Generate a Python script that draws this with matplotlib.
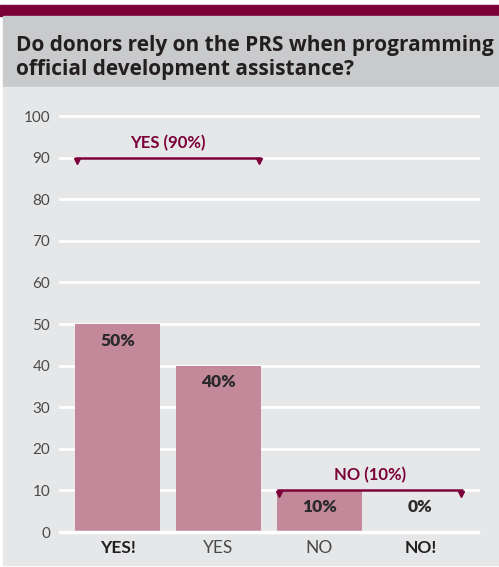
import matplotlib
matplotlib.use("Agg")
import matplotlib.pyplot as plt
from matplotlib.patches import Rectangle

categories = ["YES!", "YES", "NO", "NO!"]
values = [50, 40, 10, 0]
value_labels = ["50%", "40%", "10%", "0%"]
bold_ticks = [True, False, False, True]
yticks = [0, 10, 20, 30, 40, 50, 60, 70, 80, 90, 100]
brackets = [("YES (90%)", 0, 1, 90), ("NO (10%)", 2, 3, 10)]
title = "Do donors rely on the PRS when programming\nofficial development assistance?"

MAROON = "#7b0039"
BAR = "#c4889b"
HEADER = "#c9cacc"
PANEL = "#e6e7e8"
TXT = "#231f20"
FONT = "Lato"

W, H = 499, 567
fig = plt.figure(figsize=(W / 100, H / 100), dpi=100, facecolor="white")

def fx(px):
    return px / W

def fy(py):
    return 1 - py / H

# backgrounds
for rect in [
    Rectangle((0, fy(16)), 1, fy(5) - fy(16), color=MAROON),
    Rectangle((fx(3), fy(87)), 1, fy(16) - fy(87), color=HEADER),
    Rectangle((fx(3), fy(565)), 1, fy(87) - fy(565), color=PANEL),
]:
    rect.set_transform(fig.transFigure)
    rect.set_zorder(-10)
    fig.patches.append(rect)

fig.text(fx(16), fy(75), title, fontsize=15, fontweight="bold", family="Open Sans", color=TXT,
         va="baseline", ha="left", linespacing=1.2)

ax = fig.add_axes([fx(60), fy(532), fx(478) - fx(60), fy(116) - fy(532)])
ax.set_facecolor("none")
x = list(range(len(categories)))
ax.bar(x, values, width=0.84, color=BAR, zorder=2)
ax.set_xlim(-0.57, 3.57)
ax.set_ylim(0, 100)
ax.set_yticks(yticks)
for yv in yticks:
    ax.axhline(yv, color="white", lw=2.5 if yv == 0 else 2, zorder=1 if yv else 3, clip_on=False)
for s in ax.spines.values():
    s.set_visible(False)
ax.tick_params(axis="both", length=0)
ax.tick_params(axis="y", pad=7, labelsize=11, labelcolor="#4a4a4a")
for lbl in ax.get_yticklabels():
    lbl.set_family(FONT)
ax.set_xticks(x)
ax.set_xticklabels(categories)
for lbl, b in zip(ax.get_xticklabels(), bold_ticks):
    lbl.set_family(FONT)
    lbl.set_fontsize(12.5)
    lbl.set_color(TXT if b else "#4a4a4a")
    lbl.set_fontweight("bold" if b else "normal")
ax.tick_params(axis="x", pad=6)

for xi, v, t in zip(x, values, value_labels):
    ax.text(xi, max(v, 10) - 4, t, ha="center", va="center", fontsize=12.5, fontweight="heavy",
            family=FONT, color="#2a2a2a", zorder=4)

for label, i0, i1, yv in brackets:
    x0, x1 = i0 - 0.42, i1 + 0.42
    ax.plot([x0, x1], [yv, yv], color=MAROON, lw=1.8, zorder=5, solid_capstyle="butt")
    ax.plot([x0 + 0.02, x1 - 0.02], [yv - 0.8, yv - 0.8], ls="none", marker="v", ms=4, color=MAROON, zorder=5)
    ax.text((x0 + x1) / 2, yv + 1.6, label, ha="center", va="bottom", fontsize=12, fontweight="bold",
            family=FONT, color=MAROON, zorder=5)

fig.savefig("out.png", dpi=100, facecolor="white")
